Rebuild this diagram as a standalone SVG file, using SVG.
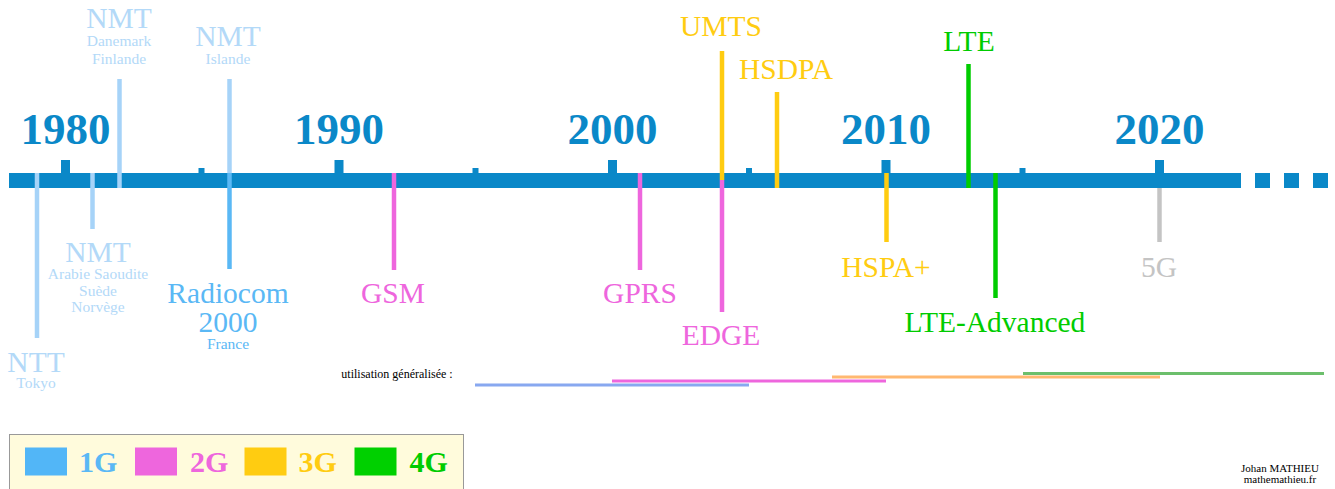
<svg xmlns="http://www.w3.org/2000/svg" width="1335" height="489" viewBox="0 0 1335 489">
<style>
text{font-family:"Liberation Serif","Times New Roman",serif;text-anchor:middle}
.yr{font-size:45px;font-weight:bold;fill:#0a88c8}
.big{font-size:29.5px}
.sm{font-size:15.5px}
.c1a{fill:#b3d9f8}.c1b{fill:#5ab8f5}.c2{fill:#ee66dd}.c3{fill:#ffcc11}.c4{fill:#00cc00}.c5{fill:#c4c4c4}
.l1a{stroke:#a6d3f8}.l1b{stroke:#5ab8f5}.l2{stroke:#ee66dd}.l3{stroke:#ffcc11}.l4{stroke:#00cc00}.l5{stroke:#c4c4c4}
.ev line{stroke-width:4.5}
.use line{stroke-width:3}
.leg{font-size:30px;font-weight:bold;text-anchor:start}
</style>
<g id="axis" fill="#0a88c8">
<rect x="9" y="173" width="1232" height="15"/>
<rect x="1255" y="173" width="15" height="15"/>
<rect x="1284" y="173" width="15" height="15"/>
<rect x="1313" y="173" width="15" height="15"/>
<rect x="61" y="160" width="9" height="13"/>
<rect x="334.5" y="160" width="9" height="13"/>
<rect x="608" y="160" width="9" height="13"/>
<rect x="881.5" y="160" width="9" height="13"/>
<rect x="1155" y="160" width="9" height="13"/>
<rect x="198.5" y="168" width="6" height="5"/>
<rect x="472.5" y="168" width="6" height="5"/>
<rect x="746" y="168" width="6" height="5"/>
<rect x="1019.5" y="168" width="6" height="5"/>
<text class="yr" x="65.5" y="144">1980</text>
<text class="yr" x="339" y="144">1990</text>
<text class="yr" x="612.5" y="144">2000</text>
<text class="yr" x="886" y="144">2010</text>
<text class="yr" x="1159.5" y="144">2020</text>
</g>
<g id="connectors" class="ev">
<line class="l1a" x1="37" y1="173" x2="37" y2="338"/>
<line class="l1a" x1="92.5" y1="173" x2="92.5" y2="229"/>
<line class="l1a" x1="119.5" y1="79" x2="119.5" y2="188"/>
<line class="l1a" x1="229.5" y1="79" x2="229.5" y2="173"/>
<line class="l1b" x1="229.5" y1="173" x2="229.5" y2="269"/>
<line class="l2" x1="394" y1="173" x2="394" y2="270"/>
<line class="l2" x1="640" y1="173" x2="640" y2="270"/>
<line class="l3" x1="722" y1="51" x2="722" y2="180"/>
<line class="l2" x1="722" y1="180" x2="722" y2="312"/>
<line class="l3" x1="777" y1="92" x2="777" y2="188"/>
<line class="l3" x1="886.5" y1="173" x2="886.5" y2="242"/>
<line class="l4" x1="968.5" y1="64" x2="968.5" y2="188"/>
<line class="l4" x1="995.5" y1="173" x2="995.5" y2="298"/>
<line class="l5" x1="1159.5" y1="188" x2="1159.5" y2="242"/>
</g>
<g id="ntt"><text class="big c1a" x="36" y="372">NTT</text><text class="sm c1a" x="36" y="388">Tokyo</text></g>
<g id="nmt-arabie"><text class="big c1a" x="98" y="262">NMT</text><text class="sm c1a" x="98" y="279">Arabie Saoudite</text><text class="sm c1a" x="98" y="296">Suède</text><text class="sm c1a" x="98" y="312">Norvège</text></g>
<g id="nmt-danemark"><text class="big c1a" x="119" y="28">NMT</text><text class="sm c1a" x="119" y="46">Danemark</text><text class="sm c1a" x="119" y="64">Finlande</text></g>
<g id="nmt-islande"><text class="big c1a" x="228" y="46">NMT</text><text class="sm c1a" x="228" y="64">Islande</text></g>
<g id="radiocom"><text class="big c1b" x="228" y="303">Radiocom</text><text class="big c1b" x="228" y="332">2000</text><text class="sm c1b" x="228" y="349">France</text></g>
<g id="gsm"><text class="big c2" x="393" y="303">GSM</text></g>
<g id="gprs"><text class="big c2" x="640" y="303">GPRS</text></g>
<g id="edge"><text class="big c2" x="721" y="345">EDGE</text></g>
<g id="umts"><text class="big c3" x="721" y="36">UMTS</text></g>
<g id="hsdpa"><text class="big c3" x="786" y="79">HSDPA</text></g>
<g id="hspa"><text class="big c3" x="886" y="277">HSPA+</text></g>
<g id="lte"><text class="big c4" x="969" y="51">LTE</text></g>
<g id="lte-adv"><text class="big c4" x="995" y="332">LTE-Advanced</text></g>
<g id="g5"><text class="big c5" x="1159" y="277">5G</text></g>
<g id="usage" class="use">
<text x="397" y="378" style="font-size:12px;fill:#000">utilisation généralisée :</text>
<line x1="475" y1="385" x2="749" y2="385" stroke="#88a8f0"/>
<line x1="612" y1="381" x2="886" y2="381" stroke="#ee66dd"/>
<line x1="832" y1="377" x2="1160" y2="377" stroke="#ffb870"/>
<line x1="1023" y1="373.5" x2="1324" y2="373.5" stroke="#6cbf6c"/>
</g>
<g id="legend">
<rect x="9.5" y="434.5" width="454" height="60" fill="#fffbdc" stroke="#999" stroke-width="1"/>
<rect x="25" y="447.5" width="42" height="28" fill="#52b6f7"/>
<text class="leg c1b" x="79" y="472">1G</text>
<rect x="135" y="447.5" width="42" height="28" fill="#ee66dd"/>
<text class="leg c2" x="190" y="472">2G</text>
<rect x="244.5" y="447.5" width="42" height="28" fill="#ffcc11"/>
<text class="leg c3" x="298.5" y="472">3G</text>
<rect x="354.5" y="447.5" width="42" height="28" fill="#00d000"/>
<text class="leg c4" x="409.5" y="472">4G</text>
</g>
<g id="credit" style="font-size:11px">
<text x="1280" y="472" style="font-size:11px;fill:#000">Johan MATHIEU</text>
<text x="1280" y="482.5" style="font-size:11px;fill:#000">mathemathieu.fr</text>
</g>
</svg>
